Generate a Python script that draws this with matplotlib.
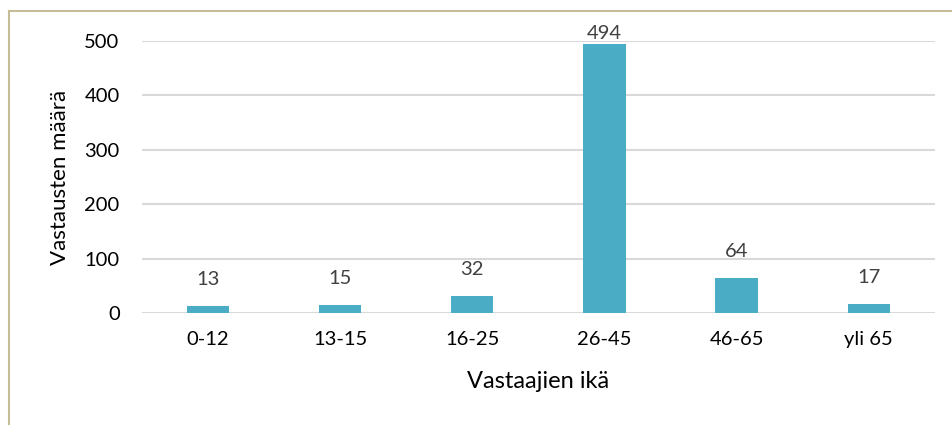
import matplotlib.pyplot as plt
from matplotlib.lines import Line2D

categories = ["0-12", "13-15", "16-25", "26-45", "46-65", "yli 65"]
counts = [13, 15, 32, 494, 64, 17]
y_ticks = [0, 100, 200, 300, 400, 500]

plt.rcParams['font.family'] = ['Lato', 'DejaVu Sans']

fig = plt.figure(figsize=(9.52, 4.25), dpi=100)
ax = fig.add_axes([0.149, 0.2635, 0.833, 0.64])

x = range(len(categories))
ax.bar(x, counts, width=0.32, color="#4BACC6", zorder=3)

for xi, v in zip(x, counts):
    off = 8 if v == max(counts) else 19
    ax.annotate(str(v), xy=(xi, v), xytext=(0, off), textcoords="offset points",
                ha="center", va="center", fontsize=14.5, color="#404040", annotation_clip=False)

ax.set_xlim(-0.5, len(categories) - 0.5)
ax.set_ylim(0, 500)
ax.set_yticks(y_ticks)
ax.set_xticks(list(x))
ax.set_xticklabels(categories)
ax.grid(axis="y", color="#D9D9D9", linewidth=1.5, zorder=0)
ax.set_axisbelow(True)
for s in ax.spines.values():
    s.set_visible(False)
ax.tick_params(axis="both", length=0, labelsize=14.5, colors="#000000")
ax.tick_params(axis="y", pad=16)
ax.tick_params(axis="x", pad=13)

ax.set_xlabel("Vastaajien ikä", fontsize=17)
ax.set_ylabel("Vastausten määrä", fontsize=16)
ax.xaxis.set_label_coords(0.5, -0.215)
ax.yaxis.set_label_coords(-0.09, 0.5)

# chart area border (left and top edges visible)
border = "#C4BD97"
fig.add_artist(Line2D([8.5 / 952, 8.5 / 952], [0, 1 - 11 / 425], color=border, lw=1.5))
fig.add_artist(Line2D([8.5 / 952, 1], [1 - 11 / 425, 1 - 11 / 425], color=border, lw=1.5))

plt.savefig("out.png", dpi=100)
